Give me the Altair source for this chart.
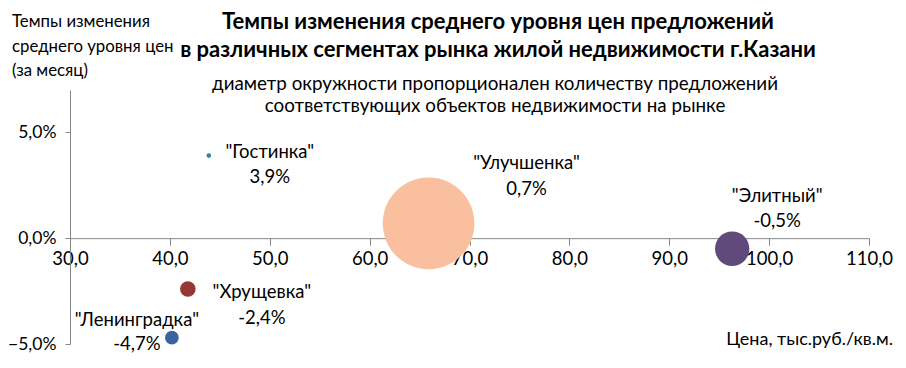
import altair as alt
import pandas as pd

# ---- data ----
segments = ['"Гостинка"', '"Хрущевка"', '"Ленинградка"', '"Улучшенка"', '"Элитный"']
price = [43.9, 41.8, 40.2, 65.9, 96.3]          # тыс.руб./кв.м.
change = [3.9, -2.4, -4.7, 0.7, -0.5]           # % за месяц
offers = [50, 170, 150, 1000, 375]              # diameter-proportional count
colors = ["#31859C", "#953735", "#3A64A0", "#FABF9E", "#604A7B"]
value_labels = ["3,9%", "-2,4%", "-4,7%", "0,7%", "-0,5%"]

title_text = ["Темпы изменения среднего уровня цен предложений",
              "в различных сегментах рынка жилой недвижимости г.Казани"]
subtitle_text = ["диаметр окружности пропорционален количеству предложений",
                 "соответствующих объектов недвижимости на рынке"]
ytitle_text = ["Темпы изменения", "среднего уровня цен", "(за месяц)"]
xtitle_text = "Цена, тыс.руб./кв.м."

df = pd.DataFrame({
    "seg": segments, "price": price, "change": change,
    "offers": offers, "lbl": value_labels,
})

W, H = 799, 254
FONT = "Lato"
FS = 18.5
TFS = 22

xs = alt.Scale(domain=[30, 110], nice=False, zero=False)
ys = alt.Scale(domain=[-5, 7], nice=False, zero=False)

base = alt.Chart(df)

x_axis = alt.Axis(
    values=[30, 40, 50, 60, 70, 80, 90, 100, 110],
    labelExpr="replace(format(datum.value, '.1f'), '.', ',')",
    grid=False, domainColor="#868686", tickColor="#868686",
    tickSize=7, labelPadding=4, labelFontSize=FS, labelColor="#000",
    labelFont=FONT, title=None, offset=-H * 5 / 12, labelFlush=False,
)
y_axis = alt.Axis(
    values=[-5, 0, 5],
    labelExpr="replace(format(datum.value, '.1f'), '.', ',') + '%'",
    grid=False, domainColor="#868686", tickColor="#868686",
    tickSize=5, labelPadding=9, labelFontSize=17.5, labelColor="#000",
    labelFont=FONT, title=None, labelFlush=False,
)

bubbles = base.mark_circle(opacity=1).encode(
    x=alt.X("price:Q", scale=xs, axis=x_axis),
    y=alt.Y("change:Q", scale=ys, axis=y_axis),
    size=alt.Size("offers:Q", scale=alt.Scale(type="pow", exponent=2,
                                                 domain=[0, 1000], range=[0, 8400]),
                  legend=None),
    color=alt.Color("seg:N", scale=alt.Scale(domain=segments, range=colors), legend=None),
)

# per-label offsets (name, value) relative to bubble centre
offsets = {
    '"Гостинка"': (61, -4, 21),
    '"Хрущевка"': (74, 3, 29),
    '"Ленинградка"': (-35, -18, 6),
    '"Улучшенка"': (98, -60, -34),
    '"Элитный"': (45, -53, -28),
}

layers = [bubbles]
for seg, (dx, dy1, dy2) in offsets.items():
    sel = base.transform_filter(alt.datum.seg == seg)
    layers.append(sel.mark_text(dx=dx, dy=dy1, fontSize=FS, font=FONT, color="#000").encode(
        x=alt.X("price:Q", scale=xs), y=alt.Y("change:Q", scale=ys), text="seg:N"))
    layers.append(sel.mark_text(dx=dx, dy=dy2, fontSize=FS, font=FONT, color="#000").encode(
        x=alt.X("price:Q", scale=xs), y=alt.Y("change:Q", scale=ys), text="lbl:N"))

one = pd.DataFrame({"a": [0]})


def annot(text, x, y, size=FS, weight="normal", align="center"):
    return alt.Chart(one).mark_text(
        fontSize=size, fontWeight=weight, font=FONT, color="#000",
        align=align, baseline="middle", text=text,
    ).encode(x=alt.value(x), y=alt.value(y))


layers += [
    annot(title_text[0], 428, -68, TFS, "bold"),
    annot(title_text[1], 428, -40, TFS, "bold"),
    annot(subtitle_text[0], 425, -6, 18.8),
    annot(subtitle_text[1], 425, 16, 18.8),
    annot(ytitle_text[0], -58, -68, 16.8, align="left"),
    annot(ytitle_text[1], -58, -43, 16.8, align="left"),
    annot(ytitle_text[2], -58, -19, 16.8, align="left"),
    annot(xtitle_text, 823, 250, 18, align="right"),
]

chart = alt.layer(*layers).properties(
    width=W, height=H,
    autosize=alt.AutoSizeParams(type="none"),
    padding={"left": 62, "top": 82, "right": 29, "bottom": 10},
).configure_view(stroke=None)

chart.save("out.html", embed_options={"renderer": "svg", "actions": False})
